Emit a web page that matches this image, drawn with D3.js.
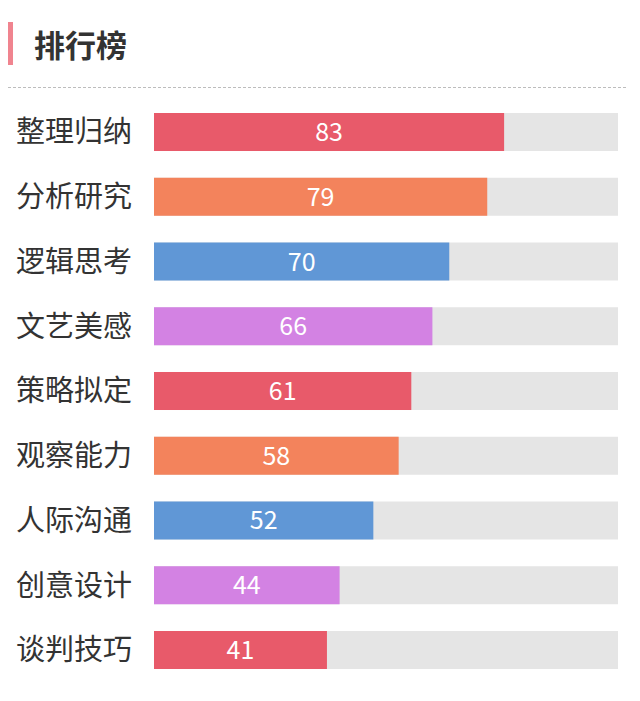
<!DOCTYPE html>
<html>
<head>
<meta charset="utf-8">
<script src="https://cdn.jsdelivr.net/npm/d3@7"></script>
<style>
  html, body { margin: 0; padding: 0; background: #fff; }
  #chart { width: 640px; height: 701px; }
</style>
</head>
<body>
<div id="chart"></div>
<script>
const categories = ['整理归纳', '分析研究', '逻辑思考', '文艺美感', '策略拟定', '观察能力', '人际沟通', '创意设计', '谈判技巧'];
const values = [83, 79, 70, 66, 61, 58, 52, 44, 41];
const palette = ['#e85a6a', '#f3835c', '#6097d6', '#d382e3'];
const maxValue = 110;

const width = 640;
const height = 701;
const font = '"Noto Sans CJK SC", "Noto Sans", sans-serif';

const svg = d3.select('#chart')
  .append('svg')
  .attr('width', width)
  .attr('height', height);

// Title block
svg.append('rect')
  .attr('x', 8).attr('y', 22)
  .attr('width', 5).attr('height', 43)
  .attr('fill', '#f0848f');

svg.append('text')
  .attr('x', 34).attr('y', 46)
  .attr('dy', '0.36em')
  .style('font-family', font)
  .style('font-size', '31px')
  .style('font-weight', 'bold')
  .attr('fill', '#333')
  .text('排行榜');

svg.append('line')
  .attr('x1', 8).attr('x2', 628)
  .attr('y1', 87.5).attr('y2', 87.5)
  .attr('stroke', '#bdbdbd')
  .attr('stroke-dasharray', '3,2');

const x = d3.scaleLinear()
  .domain([0, maxValue])
  .range([154, 618]);

const y = d3.scaleBand()
  .domain(categories)
  .range([113, 669])
  .paddingInner(0.413)
  .paddingOuter(0);

const rows = svg.append('g')
  .selectAll('g')
  .data(categories)
  .join('g');

rows.append('rect')
  .attr('x', x(0))
  .attr('y', d => y(d))
  .attr('width', x(maxValue) - x(0))
  .attr('height', y.bandwidth())
  .attr('fill', '#e5e5e5');

rows.append('rect')
  .attr('x', x(0))
  .attr('y', d => y(d))
  .attr('width', (d, i) => x(values[i]) - x(0))
  .attr('height', y.bandwidth())
  .attr('fill', (d, i) => palette[i % palette.length]);

rows.append('text')
  .attr('x', 16)
  .attr('y', d => y(d) + y.bandwidth() / 2)
  .attr('dy', '0.36em')
  .style('font-family', font)
  .style('font-size', '29px')
  .attr('fill', '#333')
  .text(d => d);

rows.append('text')
  .attr('x', (d, i) => (x(0) + x(values[i])) / 2)
  .attr('y', d => y(d) + y.bandwidth() / 2)
  .attr('dy', '0.36em')
  .attr('text-anchor', 'middle')
  .style('font-family', font)
  .style('font-size', '25px')
  .attr('fill', '#fff')
  .text((d, i) => values[i]);
</script>
</body>
</html>
